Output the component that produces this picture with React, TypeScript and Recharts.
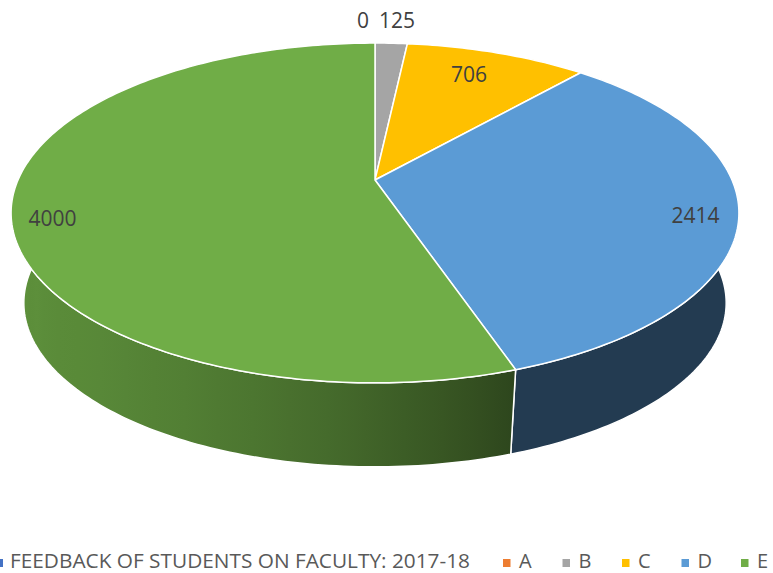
import { PieChart, Pie, Legend } from "recharts";

const CATEGORIES = ["A", "B", "C", "D", "E"];
const VALUES = [0, 125, 706, 2414, 4000];
const SERIES_NAME = "FEEDBACK OF STUDENTS ON FACULTY: 2017-18";
const COLORS = ["#ED7D31", "#A5A5A5", "#FFC000", "#5B9BD5", "#70AD47"];

const data = CATEGORIES.map((name, i) => ({ name, value: VALUES[i] }));

// look of the 3d disc
const TILT = 0.458; // vertical / horizontal radius
const PERSP = 0.194; // perspective strength
const DEPTH_K = 0.965; // bottom face shrink toward vanishing point
const VANISH_Y = 2783;
const FONT = "'Open Sans', 'Liberation Sans', sans-serif";

// label placement (fraction of radius + nudge)
const LABEL_R = [1.21, 1.21, 0.74, 0.885, 0.89];
const LABEL_DX = [-12, 3, 0, 0, 0];
const LABEL_DY = [0, 0, -8, 6, 14];

const RAD = Math.PI / 180;

const proj = (cx: number, cy: number, R: number, deg: number, r = 1) => {
  const c = Math.cos(deg * RAD);
  const s = Math.sin(deg * RAD);
  const k = 1 / (1 + PERSP * r * s);
  return [cx + R * r * c * k, cy - R * TILT * r * s * k];
};

const drop = (cx: number, p: number[]) => [
  cx + DEPTH_K * (p[0] - cx),
  VANISH_Y + DEPTH_K * (p[1] - VANISH_Y),
];

const arc = (from: number, to: number) => {
  const n = Math.max(2, Math.ceil(Math.abs(from - to)) + 1);
  const out: number[] = [];
  for (let i = 0; i < n; i++) out.push(from + ((to - from) * i) / (n - 1));
  return out;
};

const shade = (hex: string, f: number) => {
  const v = parseInt(hex.slice(1), 16);
  const ch = [(v >> 16) & 255, (v >> 8) & 255, v & 255].map((c) =>
    Math.round(c * f)
  );
  return `rgb(${ch[0]},${ch[1]},${ch[2]})`;
};

const wallLight = (deg: number) => {
  const t = Math.cos(deg * RAD);
  return Math.max(0.38, 0.57 - 0.45 * t - 0.19 * t * t);
};

const pts = (list: number[][]) =>
  list.map((p, i) => `${i ? "L" : "M"}${p[0].toFixed(2)},${p[1].toFixed(2)}`).join(" ");

const Wall = (props: any) => {
  const { cx, cy, outerRadius, startAngle, endAngle, index } = props;
  const hi = Math.max(startAngle, endAngle);
  const lo = Math.min(startAngle, endAngle);
  if (hi === lo) return null;
  const parts: number[][] = [];
  [-360, 0, 360].forEach((off) => {
    const a = Math.max(lo, -192 + off);
    const b = Math.min(hi, 12 + off);
    if (b > a) parts.push([a, b]);
  });
  return (
    <g>
      {parts.map(([a, b], j) => {
        const angs = arc(b, a);
        const topPts = angs.map((d) => proj(cx, cy, outerRadius, d));
        const botPts = topPts.map((p) => drop(cx, p)).reverse();
        const xs = topPts.concat(botPts).map((p) => p[0]);
        const x0 = Math.min(...xs);
        const x1 = Math.max(...xs);
        const stops = arc(b, a)
          .filter((_, k) => k % 5 === 0)
          .map((d) => ({
            x: proj(cx, cy, outerRadius, d)[0],
            c: shade(COLORS[index], wallLight(d)),
          }))
          .sort((p, q) => p.x - q.x);
        const id = `wall-${index}-${j}`;
        return (
          <g key={id}>
            <defs>
              <linearGradient id={id} gradientUnits="userSpaceOnUse" x1={x0} x2={x1} y1={0} y2={0}>
                {stops.map((s, k) => (
                  <stop key={k} offset={Math.min(1, Math.max(0, (s.x - x0) / (x1 - x0)))} stopColor={s.c} />
                ))}
              </linearGradient>
            </defs>
            <path
              d={pts(topPts.concat(botPts)) + " Z"}
              fill={`url(#${id})`}
              stroke="#fff"
              strokeWidth={1.5}
              strokeLinejoin="round"
            />
          </g>
        );
      })}
    </g>
  );
};

const TopFace = (props: any) => {
  const { cx, cy, outerRadius, startAngle, endAngle, index, value } = props;
  const mid = (startAngle + endAngle) / 2;
  const lp = proj(cx, cy, outerRadius, mid, LABEL_R[index]);
  return (
    <g>
      {startAngle !== endAngle && (
        <path
          d={pts([[cx, cy], ...arc(startAngle, endAngle).map((d) => proj(cx, cy, outerRadius, d))]) + " Z"}
          fill={COLORS[index]}
          stroke="#fff"
          strokeWidth={1.5}
          strokeLinejoin="round"
        />
      )}
      <text
        x={lp[0] + LABEL_DX[index]}
        y={lp[1] + LABEL_DY[index]}
        textAnchor="middle"
        dominantBaseline="central"
        fontSize={21}
        fontFamily={FONT}
        fill="#404040"
      >
        {String(value)}
      </text>
    </g>
  );
};

const LegendBox = () => (
  <svg width={773} height={33} style={{ display: "block", overflow: "visible" }}>
    <rect x={-4} y={19} width={7} height={8} fill="#4472C4" />
    <text x={10} y={27.5} fontSize={20} fontFamily={FONT} fill="#595959" textLength={460} lengthAdjust="spacingAndGlyphs">
      {SERIES_NAME}
    </text>
    {CATEGORIES.map((c, i) => {
      const x = 503 + i * 59.5;
      return (
        <g key={c}>
          <rect x={x} y={19} width={7.5} height={8} fill={COLORS[i]} />
          <text x={x + 16} y={27.5} fontSize={20} fontFamily={FONT} fill="#595959">
            {c}
          </text>
        </g>
      );
    })}
  </svg>
);

export default function App() {
  return (
    <div style={{ position: "absolute", left: 0, top: 0 }}>
      <PieChart width={773} height={573} margin={{ top: 0, right: 0, bottom: 0, left: 0 }}>
        <Pie
          data={data}
          dataKey="value"
          nameKey="name"
          cx={375}
          cy={180}
          outerRadius={357}
          startAngle={90}
          endAngle={-270}
          fill="none"
          stroke="none"
          label={Wall}
          labelLine={false}
          isAnimationActive={false}
        />
        <Pie
          data={data}
          dataKey="value"
          nameKey="name"
          cx={375}
          cy={180}
          outerRadius={357}
          startAngle={90}
          endAngle={-270}
          fill="none"
          stroke="none"
          label={TopFace}
          labelLine={false}
          isAnimationActive={false}
        />
        <Legend
          content={LegendBox}
          wrapperStyle={{ position: "absolute", left: 0, top: 540, width: 773, height: 33, bottom: "auto" }}
        />
      </PieChart>
    </div>
  );
}
